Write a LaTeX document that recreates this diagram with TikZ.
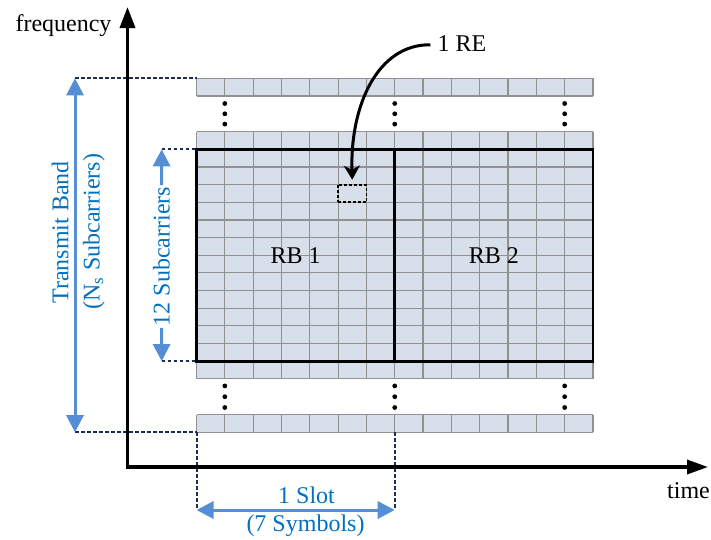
\documentclass[tikz,border=0pt]{standalone}
\usepackage{fontspec}
\setmainfont{Liberation Serif}
\usetikzlibrary{arrows.meta}

\definecolor{cellfill}{RGB}{214,223,234}
\definecolor{cellline}{RGB}{145,145,145}
\definecolor{guidenavy}{RGB}{25,45,85}
\definecolor{dimblue}{RGB}{85,142,213}
\definecolor{textblue}{RGB}{0,112,192}

\begin{document}
\begin{tikzpicture}[x=1pt,y=-1pt,
  lbl/.style={font=\fontsize{24}{28}\selectfont, inner sep=0pt},
  bluelbl/.style={lbl, text=textblue},
  guide/.style={guidenavy, line width=2pt, dash pattern=on 3.5pt off 2.5pt},
  dimline/.style={dimblue, line width=3pt},
  dimboth/.style={dimline, {Triangle[width=17pt,length=17pt]}-{Triangle[width=17pt,length=17pt]}},
  dimend/.style={dimline, -{Triangle[width=17pt,length=17pt]}},
  axisline/.style={line width=3.5pt, line join=miter,
    {Triangle[width=15pt,length=21pt]}-{Triangle[width=14pt,length=21pt]}},
  cellgrid/.style={cellline, line width=1.2pt},
  rbbox/.style={draw, line width=2.8pt, minimum width=198.24pt, minimum height=211.8pt,
    inner sep=0pt, font=\fontsize{24}{28}\selectfont},
  rebox/.style={draw, line width=1.8pt, dash pattern=on 3pt off 2pt,
    minimum width=28.32pt, minimum height=17.65pt, inner sep=0pt},
  rearrow/.style={line width=3pt, -{Stealth[width=16pt,length=14pt,inset=4pt]}},
  gapdot/.style={black}
]
\useasboundingbox (0,0) rectangle (711,539);

\def\xa{196.5}
\def\colw{28.32}
\def\rowh{17.65}

% resource grid strips: top row, the RB band with one row above and below, bottom row
\foreach \ya/\n in {78.3/1, 131.65/14, 414.5/1} {
  \fill[cellfill] (\xa,\ya) rectangle ++(14*\colw, \n*\rowh);
  \foreach \i in {0,...,14}
    \draw[cellgrid] (\xa+\i*\colw, \ya) -- ++(0, \n*\rowh);
  \foreach \j in {0,...,\n}
    \draw[cellgrid] (\xa, \ya+\j*\rowh) -- ++(14*\colw, 0);
}

% vertical ellipses between strips
\foreach \c in {1,7,13} {
  \foreach \yy in {103.5,113.8,124.1,385.9,396.7,407.5}
    \fill[gapdot] (\xa+\c*\colw, \yy) circle (2.4pt);
}

% resource blocks
\node[rbbox] (rb1) at (\xa+3.5*\colw, 255.2) {RB 1};
\node[rbbox] (rb2) at (\xa+10.5*\colw, 255.2) {RB 2};

% one resource element
\node[rebox] (re) at (\xa+5.5*\colw, 149.3+2.5*\rowh) {};
\node[lbl, anchor=base] (relbl) at (462,51.7) {1 RE};
\draw[rearrow] ([xshift=-7pt,yshift=-1pt]relbl.west)
  .. controls (378,44) and (350,105) .. ([yshift=4pt]re.north);

% guide lines
\coordinate (tbTop) at (75,78.3);
\coordinate (tbBot) at (75,432.2);
\coordinate (gridTL) at (\xa,78.3);
\coordinate (gridBL) at (\xa,432.2);
\coordinate (scTop) at (161.7,149.3);
\coordinate (scBot) at (161.7,361.1);
\coordinate (rbTL) at (\xa,149.3);
\coordinate (rbBL) at (\xa,361.1);
\coordinate (slotL) at (\xa,510);
\coordinate (slotR) at (\xa+7*\colw,510);
\coordinate (gridBM) at (\xa+7*\colw,432.2);

\draw[guide] (tbTop) -- (gridTL);
\draw[guide] (tbBot) -- (gridBL);
\draw[guide] (scTop) -- (rbTL);
\draw[guide] (scBot) -- (rbBL);
\draw[guide] (gridBL) -- (slotL);
\draw[guide] (gridBM) -- (slotR);

% axes
\coordinate (origin) at (127.5,467);
\coordinate (fTip) at (127.5,7);
\coordinate (tTip) at (708,467);
\draw[axisline] (fTip) -- (origin) -- (tTip);
\node[lbl, anchor=base] (freq) at (63.5,31.7) {frequency};
\node[lbl, anchor=base] (time) at (688.5,498.3) {time};

% transmit band
\draw[dimboth] (tbTop) -- (tbBot);
\node[bluelbl, rotate=90, anchor=base] (tbl) at (68.3,232.5) {Transmit Band};
\node[bluelbl, rotate=90, anchor=base] (nsl) at (99.5,231.5) {(N\textsubscript{s} Subcarriers)};

% 12 subcarriers
\node[bluelbl, rotate=90, inner sep=1.5pt] (sub) at (161.5,256.5) {12 Subcarriers};
\draw[dimend] (sub.east) -- (scTop);
\draw[dimend] (sub.west) -- (scBot);

% one slot
\draw[dimboth] (slotL) -- (slotR);
\node[bluelbl, anchor=base] (slotl) at (306.5,503.5) {1 Slot};
\node[bluelbl, anchor=base] (syml) at (305.5,531) {(7 Symbols)};
\end{tikzpicture}
\end{document}
